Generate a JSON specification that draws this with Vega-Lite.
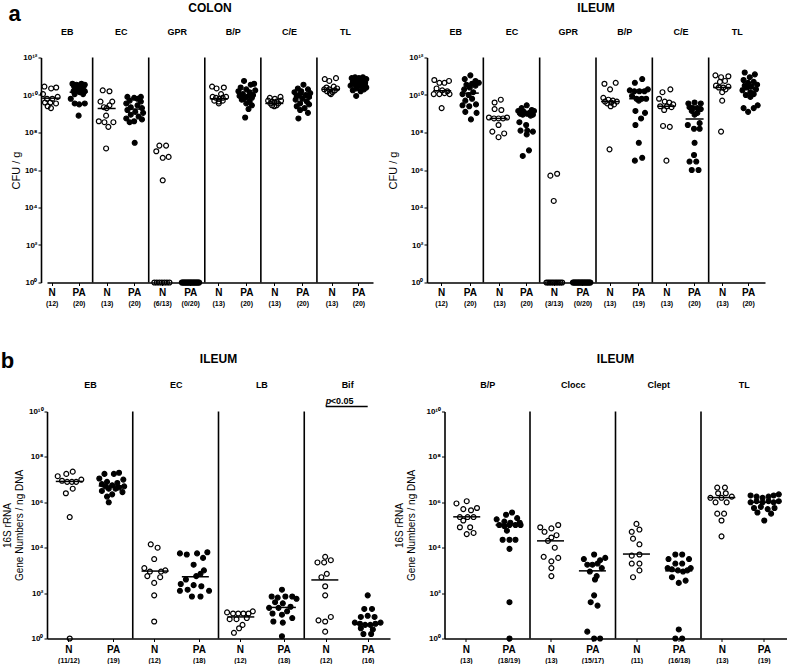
{
"$schema": "https://vega.github.io/schema/vega-lite/v6.json",
"padding": {"left": 0, "top": 1.5, "right": 0, "bottom": 0},
"config": {
 "font": "Liberation Sans",
 "view": {"stroke": null},
 "axis": {"grid": false, "domainColor": "#000", "tickColor": "#000", "labelColor": "#000", "titleColor": "#000", "labelFont": "Liberation Sans", "titleFont": "Liberation Sans"},
 "title": {"color": "#000", "font": "Liberation Sans", "fontWeight": "bold"}
},
"datasets": {
"dividers": [
 {"panel":"A","boundary":1},{"panel":"A","boundary":2},{"panel":"A","boundary":3},{"panel":"A","boundary":4},{"panel":"A","boundary":5},
 {"panel":"B","boundary":1},{"panel":"B","boundary":2},{"panel":"B","boundary":3},{"panel":"B","boundary":4},{"panel":"B","boundary":5},
 {"panel":"C","boundary":1},{"panel":"C","boundary":2},{"panel":"C","boundary":3},
 {"panel":"D","boundary":1},{"panel":"D","boundary":2},{"panel":"D","boundary":3}
],
"annotations": [
 {"panel":"C","group":"Bif","from":3.25,"to":3.74,"level":1.66e10,"symbol":"p","threshold":"<0.05"}
],
"medians": [
 {"panel":"A","group":"EB","cohort":"N","x":0.26,"value":6.76e9},
 {"panel":"A","group":"EB","cohort":"PA","x":0.75,"value":1.41e10},
 {"panel":"A","group":"EC","cohort":"N","x":1.25,"value":1.91e9},
 {"panel":"A","group":"EC","cohort":"PA","x":1.75,"value":1.78e9},
 {"panel":"A","group":"B/P","cohort":"N","x":3.25,"value":6.31e9},
 {"panel":"A","group":"B/P","cohort":"PA","x":3.75,"value":9.33e9},
 {"panel":"A","group":"C/E","cohort":"N","x":4.24,"value":3.55e9},
 {"panel":"A","group":"C/E","cohort":"PA","x":4.75,"value":7.08e9},
 {"panel":"A","group":"TL","cohort":"N","x":5.25,"value":2.0e10},
 {"panel":"A","group":"TL","cohort":"PA","x":5.75,"value":3.8e10},
 {"panel":"B","group":"EB","cohort":"N","x":0.27,"value":1.66e10},
 {"panel":"B","group":"EB","cohort":"PA","x":0.76,"value":1.26e10},
 {"panel":"B","group":"EC","cohort":"N","x":1.27,"value":5.62e8},
 {"panel":"B","group":"EC","cohort":"PA","x":1.76,"value":9.33e8},
 {"panel":"B","group":"B/P","cohort":"N","x":3.25,"value":4.47e9},
 {"panel":"B","group":"B/P","cohort":"PA","x":3.75,"value":6.31e9},
 {"panel":"B","group":"C/E","cohort":"N","x":4.25,"value":2.51e9},
 {"panel":"B","group":"C/E","cohort":"PA","x":4.75,"value":5.25e8},
 {"panel":"B","group":"TL","cohort":"N","x":5.24,"value":2.51e10},
 {"panel":"B","group":"TL","cohort":"PA","x":5.72,"value":2.24e10},
 {"panel":"C","group":"EB","cohort":"N","x":0.26,"value":8.32e6},
 {"panel":"C","group":"EB","cohort":"PA","x":0.76,"value":5.25e6},
 {"panel":"C","group":"EC","cohort":"N","x":1.26,"value":933},
 {"panel":"C","group":"EC","cohort":"PA","x":1.73,"value":525},
 {"panel":"C","group":"LB","cohort":"N","x":2.26,"value":8.91},
 {"panel":"C","group":"LB","cohort":"PA","x":2.745,"value":23.4},
 {"panel":"C","group":"Bif","cohort":"N","x":3.24,"value":380},
 {"panel":"C","group":"Bif","cohort":"PA","x":3.74,"value":4.27},
 {"panel":"D","group":"B/P","cohort":"N","x":0.26,"value":2.29e5},
 {"panel":"D","group":"B/P","cohort":"PA","x":0.755,"value":1e5},
 {"panel":"D","group":"Clocc","cohort":"N","x":1.24,"value":2.0e4},
 {"panel":"D","group":"Clocc","cohort":"PA","x":1.73,"value":955},
 {"panel":"D","group":"Clept","cohort":"N","x":2.245,"value":5250},
 {"panel":"D","group":"Clept","cohort":"PA","x":2.74,"value":955},
 {"panel":"D","group":"TL","cohort":"N","x":3.244,"value":1.62e6},
 {"panel":"D","group":"TL","cohort":"PA","x":3.735,"value":1e6}
],
"points": [
 {"panel":"A","group":"EB","cohort":"N","x":0.14,"value":2.82e10},
 {"panel":"A","group":"EB","cohort":"N","x":0.26,"value":2.24e10},
 {"panel":"A","group":"EB","cohort":"N","x":0.35,"value":2.51e10},
 {"panel":"A","group":"EB","cohort":"N","x":0.115,"value":1.12e10},
 {"panel":"A","group":"EB","cohort":"N","x":0.376,"value":7.94e9},
 {"panel":"A","group":"EB","cohort":"N","x":0.186,"value":6.31e9},
 {"panel":"A","group":"EB","cohort":"N","x":0.281,"value":6.31e9},
 {"panel":"A","group":"EB","cohort":"N","x":0.15,"value":3.98e9},
 {"panel":"A","group":"EB","cohort":"N","x":0.245,"value":3.98e9},
 {"panel":"A","group":"EB","cohort":"N","x":0.347,"value":3.55e9},
 {"panel":"A","group":"EB","cohort":"N","x":0.198,"value":2.51e9},
 {"panel":"A","group":"EB","cohort":"N","x":0.257,"value":2.0e9},
 {"panel":"A","group":"EB","cohort":"PA","x":0.64,"value":3.98e10},
 {"panel":"A","group":"EB","cohort":"PA","x":0.71,"value":3.55e10},
 {"panel":"A","group":"EB","cohort":"PA","x":0.80,"value":3.98e10},
 {"panel":"A","group":"EB","cohort":"PA","x":0.86,"value":3.55e10},
 {"panel":"A","group":"EB","cohort":"PA","x":0.67,"value":2.82e10},
 {"panel":"A","group":"EB","cohort":"PA","x":0.84,"value":2.82e10},
 {"panel":"A","group":"EB","cohort":"PA","x":0.75,"value":3.16e10},
 {"panel":"A","group":"EB","cohort":"PA","x":0.70,"value":2.24e10},
 {"panel":"A","group":"EB","cohort":"PA","x":0.80,"value":2.0e10},
 {"panel":"A","group":"EB","cohort":"PA","x":0.66,"value":1.58e10},
 {"panel":"A","group":"EB","cohort":"PA","x":0.86,"value":1.58e10},
 {"panel":"A","group":"EB","cohort":"PA","x":0.73,"value":1.78e10},
 {"panel":"A","group":"EB","cohort":"PA","x":0.77,"value":1.41e10},
 {"panel":"A","group":"EB","cohort":"PA","x":0.68,"value":1.12e10},
 {"panel":"A","group":"EB","cohort":"PA","x":0.83,"value":1.12e10},
 {"panel":"A","group":"EB","cohort":"PA","x":0.61,"value":6.31e9},
 {"panel":"A","group":"EB","cohort":"PA","x":0.68,"value":3.55e9},
 {"panel":"A","group":"EB","cohort":"PA","x":0.76,"value":3.16e9},
 {"panel":"A","group":"EB","cohort":"PA","x":0.86,"value":3.55e9},
 {"panel":"A","group":"EB","cohort":"PA","x":0.75,"value":7.94e8},
 {"panel":"A","group":"EC","cohort":"N","x":1.18,"value":1.78e10},
 {"panel":"A","group":"EC","cohort":"N","x":1.30,"value":1.58e10},
 {"panel":"A","group":"EC","cohort":"N","x":1.14,"value":4.47e9},
 {"panel":"A","group":"EC","cohort":"N","x":1.35,"value":4.47e9},
 {"panel":"A","group":"EC","cohort":"N","x":1.30,"value":2.82e9},
 {"panel":"A","group":"EC","cohort":"N","x":1.20,"value":2.24e9},
 {"panel":"A","group":"EC","cohort":"N","x":1.25,"value":2.0e9},
 {"panel":"A","group":"EC","cohort":"N","x":1.24,"value":7.94e8},
 {"panel":"A","group":"EC","cohort":"N","x":1.11,"value":3.98e8},
 {"panel":"A","group":"EC","cohort":"N","x":1.21,"value":3.55e8},
 {"panel":"A","group":"EC","cohort":"N","x":1.37,"value":3.55e8},
 {"panel":"A","group":"EC","cohort":"N","x":1.28,"value":2.0e8},
 {"panel":"A","group":"EC","cohort":"N","x":1.24,"value":1.41e7},
 {"panel":"A","group":"EC","cohort":"PA","x":1.62,"value":7.94e9},
 {"panel":"A","group":"EC","cohort":"PA","x":1.86,"value":7.94e9},
 {"panel":"A","group":"EC","cohort":"PA","x":1.74,"value":7.08e9},
 {"panel":"A","group":"EC","cohort":"PA","x":1.80,"value":6.31e9},
 {"panel":"A","group":"EC","cohort":"PA","x":1.66,"value":5.01e9},
 {"panel":"A","group":"EC","cohort":"PA","x":1.86,"value":4.47e9},
 {"panel":"A","group":"EC","cohort":"PA","x":1.60,"value":3.55e9},
 {"panel":"A","group":"EC","cohort":"PA","x":1.80,"value":2.82e9},
 {"panel":"A","group":"EC","cohort":"PA","x":1.68,"value":2.24e9},
 {"panel":"A","group":"EC","cohort":"PA","x":1.88,"value":2.0e9},
 {"panel":"A","group":"EC","cohort":"PA","x":1.62,"value":1.58e9},
 {"panel":"A","group":"EC","cohort":"PA","x":1.76,"value":1.26e9},
 {"panel":"A","group":"EC","cohort":"PA","x":1.90,"value":1.12e9},
 {"panel":"A","group":"EC","cohort":"PA","x":1.68,"value":8.91e8},
 {"panel":"A","group":"EC","cohort":"PA","x":1.82,"value":7.08e8},
 {"panel":"A","group":"EC","cohort":"PA","x":1.60,"value":5.62e8},
 {"panel":"A","group":"EC","cohort":"PA","x":1.88,"value":5.01e8},
 {"panel":"A","group":"EC","cohort":"PA","x":1.74,"value":3.98e8},
 {"panel":"A","group":"EC","cohort":"PA","x":1.66,"value":3.55e8},
 {"panel":"A","group":"EC","cohort":"PA","x":1.75,"value":2.82e7},
 {"panel":"A","group":"GPR","cohort":"N","x":2.19,"value":2.0e7},
 {"panel":"A","group":"GPR","cohort":"N","x":2.31,"value":2.0e7},
 {"panel":"A","group":"GPR","cohort":"N","x":2.135,"value":1e7},
 {"panel":"A","group":"GPR","cohort":"N","x":2.25,"value":4.47e6},
 {"panel":"A","group":"GPR","cohort":"N","x":2.355,"value":5.01e6},
 {"panel":"A","group":"GPR","cohort":"N","x":2.25,"value":2.82e5},
 {"panel":"A","group":"GPR","cohort":"N","x":2.10,"value":1},
 {"panel":"A","group":"GPR","cohort":"N","x":2.145,"value":1},
 {"panel":"A","group":"GPR","cohort":"N","x":2.19,"value":1},
 {"panel":"A","group":"GPR","cohort":"N","x":2.235,"value":1},
 {"panel":"A","group":"GPR","cohort":"N","x":2.28,"value":1},
 {"panel":"A","group":"GPR","cohort":"N","x":2.325,"value":1},
 {"panel":"A","group":"GPR","cohort":"N","x":2.37,"value":1},
 {"panel":"A","group":"GPR","cohort":"PA","x":2.59,"value":1},
 {"panel":"A","group":"GPR","cohort":"PA","x":2.606,"value":1},
 {"panel":"A","group":"GPR","cohort":"PA","x":2.623,"value":1},
 {"panel":"A","group":"GPR","cohort":"PA","x":2.639,"value":1},
 {"panel":"A","group":"GPR","cohort":"PA","x":2.655,"value":1},
 {"panel":"A","group":"GPR","cohort":"PA","x":2.672,"value":1},
 {"panel":"A","group":"GPR","cohort":"PA","x":2.688,"value":1},
 {"panel":"A","group":"GPR","cohort":"PA","x":2.704,"value":1},
 {"panel":"A","group":"GPR","cohort":"PA","x":2.72,"value":1},
 {"panel":"A","group":"GPR","cohort":"PA","x":2.737,"value":1},
 {"panel":"A","group":"GPR","cohort":"PA","x":2.753,"value":1},
 {"panel":"A","group":"GPR","cohort":"PA","x":2.769,"value":1},
 {"panel":"A","group":"GPR","cohort":"PA","x":2.786,"value":1},
 {"panel":"A","group":"GPR","cohort":"PA","x":2.802,"value":1},
 {"panel":"A","group":"GPR","cohort":"PA","x":2.818,"value":1},
 {"panel":"A","group":"GPR","cohort":"PA","x":2.835,"value":1},
 {"panel":"A","group":"GPR","cohort":"PA","x":2.851,"value":1},
 {"panel":"A","group":"GPR","cohort":"PA","x":2.867,"value":1},
 {"panel":"A","group":"GPR","cohort":"PA","x":2.884,"value":1},
 {"panel":"A","group":"GPR","cohort":"PA","x":2.90,"value":1},
 {"panel":"A","group":"B/P","cohort":"N","x":3.13,"value":2.82e10},
 {"panel":"A","group":"B/P","cohort":"N","x":3.21,"value":2.24e10},
 {"panel":"A","group":"B/P","cohort":"N","x":3.34,"value":2.51e10},
 {"panel":"A","group":"B/P","cohort":"N","x":3.29,"value":1.12e10},
 {"panel":"A","group":"B/P","cohort":"N","x":3.14,"value":7.94e9},
 {"panel":"A","group":"B/P","cohort":"N","x":3.20,"value":7.08e9},
 {"panel":"A","group":"B/P","cohort":"N","x":3.26,"value":6.31e9},
 {"panel":"A","group":"B/P","cohort":"N","x":3.32,"value":7.08e9},
 {"panel":"A","group":"B/P","cohort":"N","x":3.38,"value":7.94e9},
 {"panel":"A","group":"B/P","cohort":"N","x":3.17,"value":5.01e9},
 {"panel":"A","group":"B/P","cohort":"N","x":3.25,"value":4.47e9},
 {"panel":"A","group":"B/P","cohort":"N","x":3.32,"value":5.01e9},
 {"panel":"A","group":"B/P","cohort":"N","x":3.25,"value":3.55e9},
 {"panel":"A","group":"B/P","cohort":"PA","x":3.70,"value":5.62e10},
 {"panel":"A","group":"B/P","cohort":"PA","x":3.88,"value":3.98e10},
 {"panel":"A","group":"B/P","cohort":"PA","x":3.82,"value":3.55e10},
 {"panel":"A","group":"B/P","cohort":"PA","x":3.64,"value":2.51e10},
 {"panel":"A","group":"B/P","cohort":"PA","x":3.74,"value":2.0e10},
 {"panel":"A","group":"B/P","cohort":"PA","x":3.90,"value":1.78e10},
 {"panel":"A","group":"B/P","cohort":"PA","x":3.60,"value":1.58e10},
 {"panel":"A","group":"B/P","cohort":"PA","x":3.80,"value":1.41e10},
 {"panel":"A","group":"B/P","cohort":"PA","x":3.68,"value":1.12e10},
 {"panel":"A","group":"B/P","cohort":"PA","x":3.86,"value":1e10},
 {"panel":"A","group":"B/P","cohort":"PA","x":3.62,"value":8.91e9},
 {"panel":"A","group":"B/P","cohort":"PA","x":3.76,"value":7.94e9},
 {"panel":"A","group":"B/P","cohort":"PA","x":3.84,"value":7.08e9},
 {"panel":"A","group":"B/P","cohort":"PA","x":3.70,"value":6.31e9},
 {"panel":"A","group":"B/P","cohort":"PA","x":3.66,"value":5.62e9},
 {"panel":"A","group":"B/P","cohort":"PA","x":3.80,"value":4.47e9},
 {"panel":"A","group":"B/P","cohort":"PA","x":3.74,"value":3.55e9},
 {"panel":"A","group":"B/P","cohort":"PA","x":3.84,"value":2.82e9},
 {"panel":"A","group":"B/P","cohort":"PA","x":3.78,"value":1.78e9},
 {"panel":"A","group":"B/P","cohort":"PA","x":3.72,"value":6.31e8},
 {"panel":"A","group":"C/E","cohort":"N","x":4.16,"value":7.08e9},
 {"panel":"A","group":"C/E","cohort":"N","x":4.25,"value":6.31e9},
 {"panel":"A","group":"C/E","cohort":"N","x":4.35,"value":7.94e9},
 {"panel":"A","group":"C/E","cohort":"N","x":4.13,"value":5.01e9},
 {"panel":"A","group":"C/E","cohort":"N","x":4.20,"value":4.47e9},
 {"panel":"A","group":"C/E","cohort":"N","x":4.28,"value":4.47e9},
 {"panel":"A","group":"C/E","cohort":"N","x":4.36,"value":5.01e9},
 {"panel":"A","group":"C/E","cohort":"N","x":4.17,"value":3.55e9},
 {"panel":"A","group":"C/E","cohort":"N","x":4.24,"value":3.98e9},
 {"panel":"A","group":"C/E","cohort":"N","x":4.31,"value":3.55e9},
 {"panel":"A","group":"C/E","cohort":"N","x":4.20,"value":2.82e9},
 {"panel":"A","group":"C/E","cohort":"N","x":4.28,"value":2.82e9},
 {"panel":"A","group":"C/E","cohort":"N","x":4.24,"value":2.51e9},
 {"panel":"A","group":"C/E","cohort":"PA","x":4.76,"value":3.55e10},
 {"panel":"A","group":"C/E","cohort":"PA","x":4.66,"value":2.24e10},
 {"panel":"A","group":"C/E","cohort":"PA","x":4.84,"value":2.0e10},
 {"panel":"A","group":"C/E","cohort":"PA","x":4.72,"value":1.58e10},
 {"panel":"A","group":"C/E","cohort":"PA","x":4.60,"value":1.41e10},
 {"panel":"A","group":"C/E","cohort":"PA","x":4.88,"value":1.26e10},
 {"panel":"A","group":"C/E","cohort":"PA","x":4.70,"value":1.12e10},
 {"panel":"A","group":"C/E","cohort":"PA","x":4.80,"value":1e10},
 {"panel":"A","group":"C/E","cohort":"PA","x":4.64,"value":8.91e9},
 {"panel":"A","group":"C/E","cohort":"PA","x":4.86,"value":7.94e9},
 {"panel":"A","group":"C/E","cohort":"PA","x":4.74,"value":6.31e9},
 {"panel":"A","group":"C/E","cohort":"PA","x":4.62,"value":5.62e9},
 {"panel":"A","group":"C/E","cohort":"PA","x":4.82,"value":4.47e9},
 {"panel":"A","group":"C/E","cohort":"PA","x":4.70,"value":3.55e9},
 {"panel":"A","group":"C/E","cohort":"PA","x":4.86,"value":3.16e9},
 {"panel":"A","group":"C/E","cohort":"PA","x":4.64,"value":2.51e9},
 {"panel":"A","group":"C/E","cohort":"PA","x":4.78,"value":2.0e9},
 {"panel":"A","group":"C/E","cohort":"PA","x":4.70,"value":1.58e9},
 {"panel":"A","group":"C/E","cohort":"PA","x":4.84,"value":1.12e9},
 {"panel":"A","group":"C/E","cohort":"PA","x":4.67,"value":5.62e8},
 {"panel":"A","group":"TL","cohort":"N","x":5.14,"value":7.08e10},
 {"panel":"A","group":"TL","cohort":"N","x":5.22,"value":5.62e10},
 {"panel":"A","group":"TL","cohort":"N","x":5.34,"value":7.94e10},
 {"panel":"A","group":"TL","cohort":"N","x":5.30,"value":2.82e10},
 {"panel":"A","group":"TL","cohort":"N","x":5.17,"value":2.51e10},
 {"panel":"A","group":"TL","cohort":"N","x":5.36,"value":2.24e10},
 {"panel":"A","group":"TL","cohort":"N","x":5.13,"value":2.0e10},
 {"panel":"A","group":"TL","cohort":"N","x":5.22,"value":2.0e10},
 {"panel":"A","group":"TL","cohort":"N","x":5.32,"value":1.78e10},
 {"panel":"A","group":"TL","cohort":"N","x":5.18,"value":1.58e10},
 {"panel":"A","group":"TL","cohort":"N","x":5.28,"value":1.41e10},
 {"panel":"A","group":"TL","cohort":"N","x":5.23,"value":1.26e10},
 {"panel":"A","group":"TL","cohort":"N","x":5.25,"value":1.12e10},
 {"panel":"A","group":"TL","cohort":"PA","x":5.68,"value":8.91e10},
 {"panel":"A","group":"TL","cohort":"PA","x":5.82,"value":8.91e10},
 {"panel":"A","group":"TL","cohort":"PA","x":5.75,"value":7.94e10},
 {"panel":"A","group":"TL","cohort":"PA","x":5.62,"value":7.94e10},
 {"panel":"A","group":"TL","cohort":"PA","x":5.88,"value":7.08e10},
 {"panel":"A","group":"TL","cohort":"PA","x":5.70,"value":6.31e10},
 {"panel":"A","group":"TL","cohort":"PA","x":5.80,"value":5.62e10},
 {"panel":"A","group":"TL","cohort":"PA","x":5.64,"value":5.01e10},
 {"panel":"A","group":"TL","cohort":"PA","x":5.86,"value":4.47e10},
 {"panel":"A","group":"TL","cohort":"PA","x":5.74,"value":3.98e10},
 {"panel":"A","group":"TL","cohort":"PA","x":5.68,"value":3.55e10},
 {"panel":"A","group":"TL","cohort":"PA","x":5.82,"value":3.16e10},
 {"panel":"A","group":"TL","cohort":"PA","x":5.60,"value":3.16e10},
 {"panel":"A","group":"TL","cohort":"PA","x":5.76,"value":2.82e10},
 {"panel":"A","group":"TL","cohort":"PA","x":5.88,"value":2.51e10},
 {"panel":"A","group":"TL","cohort":"PA","x":5.70,"value":2.24e10},
 {"panel":"A","group":"TL","cohort":"PA","x":5.84,"value":2.0e10},
 {"panel":"A","group":"TL","cohort":"PA","x":5.64,"value":1.78e10},
 {"panel":"A","group":"TL","cohort":"PA","x":5.78,"value":1.58e10},
 {"panel":"A","group":"TL","cohort":"PA","x":5.70,"value":8.91e9},

 {"panel":"B","group":"EB","cohort":"N","x":0.13,"value":6.31e10},
 {"panel":"B","group":"EB","cohort":"N","x":0.22,"value":4.47e10},
 {"panel":"B","group":"EB","cohort":"N","x":0.31,"value":4.47e10},
 {"panel":"B","group":"EB","cohort":"N","x":0.39,"value":5.62e10},
 {"panel":"B","group":"EB","cohort":"N","x":0.17,"value":2.24e10},
 {"panel":"B","group":"EB","cohort":"N","x":0.27,"value":1.78e10},
 {"panel":"B","group":"EB","cohort":"N","x":0.36,"value":1.58e10},
 {"panel":"B","group":"EB","cohort":"N","x":0.12,"value":1.12e10},
 {"panel":"B","group":"EB","cohort":"N","x":0.22,"value":1.12e10},
 {"panel":"B","group":"EB","cohort":"N","x":0.31,"value":1.26e10},
 {"panel":"B","group":"EB","cohort":"N","x":0.40,"value":1.12e10},
 {"panel":"B","group":"EB","cohort":"N","x":0.26,"value":2.0e9},
 {"panel":"B","group":"EB","cohort":"PA","x":0.77,"value":1.12e11},
 {"panel":"B","group":"EB","cohort":"PA","x":0.67,"value":7.08e10},
 {"panel":"B","group":"EB","cohort":"PA","x":0.86,"value":5.62e10},
 {"panel":"B","group":"EB","cohort":"PA","x":0.92,"value":4.47e10},
 {"panel":"B","group":"EB","cohort":"PA","x":0.80,"value":3.98e10},
 {"panel":"B","group":"EB","cohort":"PA","x":0.70,"value":3.55e10},
 {"panel":"B","group":"EB","cohort":"PA","x":0.86,"value":3.16e10},
 {"panel":"B","group":"EB","cohort":"PA","x":0.76,"value":2.51e10},
 {"panel":"B","group":"EB","cohort":"PA","x":0.66,"value":2.0e10},
 {"panel":"B","group":"EB","cohort":"PA","x":0.82,"value":1.41e10},
 {"panel":"B","group":"EB","cohort":"PA","x":0.63,"value":1.12e10},
 {"panel":"B","group":"EB","cohort":"PA","x":0.74,"value":1e10},
 {"panel":"B","group":"EB","cohort":"PA","x":0.80,"value":6.31e9},
 {"panel":"B","group":"EB","cohort":"PA","x":0.68,"value":5.01e9},
 {"panel":"B","group":"EB","cohort":"PA","x":0.87,"value":3.16e9},
 {"panel":"B","group":"EB","cohort":"PA","x":0.63,"value":2.82e9},
 {"panel":"B","group":"EB","cohort":"PA","x":0.75,"value":2.51e9},
 {"panel":"B","group":"EB","cohort":"PA","x":0.68,"value":1.26e9},
 {"panel":"B","group":"EB","cohort":"PA","x":0.88,"value":1.12e9},
 {"panel":"B","group":"EB","cohort":"PA","x":0.78,"value":5.01e8},
 {"panel":"B","group":"EC","cohort":"N","x":1.20,"value":3.98e9},
 {"panel":"B","group":"EC","cohort":"N","x":1.31,"value":5.62e9},
 {"panel":"B","group":"EC","cohort":"N","x":1.20,"value":1.78e9},
 {"panel":"B","group":"EC","cohort":"N","x":1.32,"value":1.58e9},
 {"panel":"B","group":"EC","cohort":"N","x":1.10,"value":6.31e8},
 {"panel":"B","group":"EC","cohort":"N","x":1.19,"value":5.62e8},
 {"panel":"B","group":"EC","cohort":"N","x":1.27,"value":5.62e8},
 {"panel":"B","group":"EC","cohort":"N","x":1.35,"value":5.62e8},
 {"panel":"B","group":"EC","cohort":"N","x":1.42,"value":6.31e8},
 {"panel":"B","group":"EC","cohort":"N","x":1.27,"value":2.51e8},
 {"panel":"B","group":"EC","cohort":"N","x":1.16,"value":1.12e8},
 {"panel":"B","group":"EC","cohort":"N","x":1.37,"value":8.91e7},
 {"panel":"B","group":"EC","cohort":"N","x":1.27,"value":5.62e7},
 {"panel":"B","group":"EC","cohort":"PA","x":1.77,"value":2.82e9},
 {"panel":"B","group":"EC","cohort":"PA","x":1.68,"value":2.0e9},
 {"panel":"B","group":"EC","cohort":"PA","x":1.86,"value":1.58e9},
 {"panel":"B","group":"EC","cohort":"PA","x":1.62,"value":1.41e9},
 {"panel":"B","group":"EC","cohort":"PA","x":1.90,"value":1.41e9},
 {"panel":"B","group":"EC","cohort":"PA","x":1.72,"value":1.26e9},
 {"panel":"B","group":"EC","cohort":"PA","x":1.82,"value":1.12e9},
 {"panel":"B","group":"EC","cohort":"PA","x":1.66,"value":1e9},
 {"panel":"B","group":"EC","cohort":"PA","x":1.78,"value":1e9},
 {"panel":"B","group":"EC","cohort":"PA","x":1.88,"value":8.91e8},
 {"panel":"B","group":"EC","cohort":"PA","x":1.70,"value":8.91e8},
 {"panel":"B","group":"EC","cohort":"PA","x":1.84,"value":7.94e8},
 {"panel":"B","group":"EC","cohort":"PA","x":1.64,"value":3.55e8},
 {"panel":"B","group":"EC","cohort":"PA","x":1.76,"value":2.51e8},
 {"panel":"B","group":"EC","cohort":"PA","x":1.66,"value":1.26e8},
 {"panel":"B","group":"EC","cohort":"PA","x":1.78,"value":1.26e8},
 {"panel":"B","group":"EC","cohort":"PA","x":1.88,"value":1.12e8},
 {"panel":"B","group":"EC","cohort":"PA","x":1.77,"value":7.94e7},
 {"panel":"B","group":"EC","cohort":"PA","x":1.81,"value":1.12e7},
 {"panel":"B","group":"EC","cohort":"PA","x":1.70,"value":5.62e6},
 {"panel":"B","group":"GPR","cohort":"N","x":2.19,"value":5.01e5},
 {"panel":"B","group":"GPR","cohort":"N","x":2.31,"value":6.31e5},
 {"panel":"B","group":"GPR","cohort":"N","x":2.25,"value":2.24e4},
 {"panel":"B","group":"GPR","cohort":"N","x":2.12,"value":1},
 {"panel":"B","group":"GPR","cohort":"N","x":2.151,"value":1},
 {"panel":"B","group":"GPR","cohort":"N","x":2.182,"value":1},
 {"panel":"B","group":"GPR","cohort":"N","x":2.213,"value":1},
 {"panel":"B","group":"GPR","cohort":"N","x":2.244,"value":1},
 {"panel":"B","group":"GPR","cohort":"N","x":2.276,"value":1},
 {"panel":"B","group":"GPR","cohort":"N","x":2.307,"value":1},
 {"panel":"B","group":"GPR","cohort":"N","x":2.338,"value":1},
 {"panel":"B","group":"GPR","cohort":"N","x":2.369,"value":1},
 {"panel":"B","group":"GPR","cohort":"N","x":2.40,"value":1},
 {"panel":"B","group":"GPR","cohort":"PA","x":2.59,"value":1},
 {"panel":"B","group":"GPR","cohort":"PA","x":2.606,"value":1},
 {"panel":"B","group":"GPR","cohort":"PA","x":2.623,"value":1},
 {"panel":"B","group":"GPR","cohort":"PA","x":2.639,"value":1},
 {"panel":"B","group":"GPR","cohort":"PA","x":2.655,"value":1},
 {"panel":"B","group":"GPR","cohort":"PA","x":2.672,"value":1},
 {"panel":"B","group":"GPR","cohort":"PA","x":2.688,"value":1},
 {"panel":"B","group":"GPR","cohort":"PA","x":2.704,"value":1},
 {"panel":"B","group":"GPR","cohort":"PA","x":2.72,"value":1},
 {"panel":"B","group":"GPR","cohort":"PA","x":2.737,"value":1},
 {"panel":"B","group":"GPR","cohort":"PA","x":2.753,"value":1},
 {"panel":"B","group":"GPR","cohort":"PA","x":2.769,"value":1},
 {"panel":"B","group":"GPR","cohort":"PA","x":2.786,"value":1},
 {"panel":"B","group":"GPR","cohort":"PA","x":2.802,"value":1},
 {"panel":"B","group":"GPR","cohort":"PA","x":2.818,"value":1},
 {"panel":"B","group":"GPR","cohort":"PA","x":2.835,"value":1},
 {"panel":"B","group":"GPR","cohort":"PA","x":2.851,"value":1},
 {"panel":"B","group":"GPR","cohort":"PA","x":2.867,"value":1},
 {"panel":"B","group":"GPR","cohort":"PA","x":2.884,"value":1},
 {"panel":"B","group":"GPR","cohort":"PA","x":2.90,"value":1},
 {"panel":"B","group":"B/P","cohort":"N","x":3.15,"value":3.98e10},
 {"panel":"B","group":"B/P","cohort":"N","x":3.25,"value":2.0e10},
 {"panel":"B","group":"B/P","cohort":"N","x":3.35,"value":4.47e10},
 {"panel":"B","group":"B/P","cohort":"N","x":3.13,"value":7.08e9},
 {"panel":"B","group":"B/P","cohort":"N","x":3.22,"value":5.62e9},
 {"panel":"B","group":"B/P","cohort":"N","x":3.30,"value":5.01e9},
 {"panel":"B","group":"B/P","cohort":"N","x":3.37,"value":4.47e9},
 {"panel":"B","group":"B/P","cohort":"N","x":3.16,"value":4.47e9},
 {"panel":"B","group":"B/P","cohort":"N","x":3.27,"value":3.98e9},
 {"panel":"B","group":"B/P","cohort":"N","x":3.20,"value":3.55e9},
 {"panel":"B","group":"B/P","cohort":"N","x":3.32,"value":3.16e9},
 {"panel":"B","group":"B/P","cohort":"N","x":3.26,"value":2.51e9},
 {"panel":"B","group":"B/P","cohort":"N","x":3.24,"value":1.26e7},
 {"panel":"B","group":"B/P","cohort":"PA","x":3.69,"value":4.47e10},
 {"panel":"B","group":"B/P","cohort":"PA","x":3.82,"value":7.08e10},
 {"panel":"B","group":"B/P","cohort":"PA","x":3.60,"value":1.78e10},
 {"panel":"B","group":"B/P","cohort":"PA","x":3.68,"value":1.58e10},
 {"panel":"B","group":"B/P","cohort":"PA","x":3.77,"value":1.58e10},
 {"panel":"B","group":"B/P","cohort":"PA","x":3.86,"value":1.58e10},
 {"panel":"B","group":"B/P","cohort":"PA","x":3.92,"value":2.0e10},
 {"panel":"B","group":"B/P","cohort":"PA","x":3.64,"value":8.91e9},
 {"panel":"B","group":"B/P","cohort":"PA","x":3.72,"value":6.31e9},
 {"panel":"B","group":"B/P","cohort":"PA","x":3.81,"value":6.31e9},
 {"panel":"B","group":"B/P","cohort":"PA","x":3.89,"value":6.31e9},
 {"panel":"B","group":"B/P","cohort":"PA","x":3.76,"value":5.01e9},
 {"panel":"B","group":"B/P","cohort":"PA","x":3.70,"value":1.41e9},
 {"panel":"B","group":"B/P","cohort":"PA","x":3.87,"value":1.12e9},
 {"panel":"B","group":"B/P","cohort":"PA","x":3.80,"value":5.62e8},
 {"panel":"B","group":"B/P","cohort":"PA","x":3.70,"value":2.51e8},
 {"panel":"B","group":"B/P","cohort":"PA","x":3.76,"value":2.82e7},
 {"panel":"B","group":"B/P","cohort":"PA","x":3.69,"value":3.16e6},
 {"panel":"B","group":"B/P","cohort":"PA","x":3.82,"value":4.47e6},
 {"panel":"B","group":"C/E","cohort":"N","x":4.18,"value":1.41e10},
 {"panel":"B","group":"C/E","cohort":"N","x":4.32,"value":2.0e10},
 {"panel":"B","group":"C/E","cohort":"N","x":4.12,"value":6.31e9},
 {"panel":"B","group":"C/E","cohort":"N","x":4.22,"value":4.47e9},
 {"panel":"B","group":"C/E","cohort":"N","x":4.30,"value":3.98e9},
 {"panel":"B","group":"C/E","cohort":"N","x":4.37,"value":3.16e9},
 {"panel":"B","group":"C/E","cohort":"N","x":4.14,"value":2.51e9},
 {"panel":"B","group":"C/E","cohort":"N","x":4.26,"value":2.51e9},
 {"panel":"B","group":"C/E","cohort":"N","x":4.34,"value":2.24e9},
 {"panel":"B","group":"C/E","cohort":"N","x":4.21,"value":1.58e9},
 {"panel":"B","group":"C/E","cohort":"N","x":4.19,"value":2.24e8},
 {"panel":"B","group":"C/E","cohort":"N","x":4.31,"value":2.0e8},
 {"panel":"B","group":"C/E","cohort":"N","x":4.25,"value":3.16e6},
 {"panel":"B","group":"C/E","cohort":"PA","x":4.64,"value":3.55e9},
 {"panel":"B","group":"C/E","cohort":"PA","x":4.75,"value":3.98e9},
 {"panel":"B","group":"C/E","cohort":"PA","x":4.86,"value":3.55e9},
 {"panel":"B","group":"C/E","cohort":"PA","x":4.66,"value":2.24e9},
 {"panel":"B","group":"C/E","cohort":"PA","x":4.72,"value":2.0e9},
 {"panel":"B","group":"C/E","cohort":"PA","x":4.80,"value":2.0e9},
 {"panel":"B","group":"C/E","cohort":"PA","x":4.86,"value":1.78e9},
 {"panel":"B","group":"C/E","cohort":"PA","x":4.70,"value":1.41e9},
 {"panel":"B","group":"C/E","cohort":"PA","x":4.80,"value":1.12e9},
 {"panel":"B","group":"C/E","cohort":"PA","x":4.75,"value":8.91e8},
 {"panel":"B","group":"C/E","cohort":"PA","x":4.84,"value":3.16e8},
 {"panel":"B","group":"C/E","cohort":"PA","x":4.63,"value":2.51e8},
 {"panel":"B","group":"C/E","cohort":"PA","x":4.74,"value":1.58e8},
 {"panel":"B","group":"C/E","cohort":"PA","x":4.84,"value":1.58e8},
 {"panel":"B","group":"C/E","cohort":"PA","x":4.75,"value":2.82e7},
 {"panel":"B","group":"C/E","cohort":"PA","x":4.74,"value":6.31e6},
 {"panel":"B","group":"C/E","cohort":"PA","x":4.66,"value":2.82e6},
 {"panel":"B","group":"C/E","cohort":"PA","x":4.78,"value":2.82e6},
 {"panel":"B","group":"C/E","cohort":"PA","x":4.70,"value":1e6},
 {"panel":"B","group":"C/E","cohort":"PA","x":4.82,"value":1e6},
 {"panel":"B","group":"TL","cohort":"N","x":5.12,"value":1.12e11},
 {"panel":"B","group":"TL","cohort":"N","x":5.22,"value":8.91e10},
 {"panel":"B","group":"TL","cohort":"N","x":5.35,"value":1e11},
 {"panel":"B","group":"TL","cohort":"N","x":5.29,"value":5.62e10},
 {"panel":"B","group":"TL","cohort":"N","x":5.20,"value":5.01e10},
 {"panel":"B","group":"TL","cohort":"N","x":5.13,"value":3.16e10},
 {"panel":"B","group":"TL","cohort":"N","x":5.26,"value":2.51e10},
 {"panel":"B","group":"TL","cohort":"N","x":5.35,"value":2.82e10},
 {"panel":"B","group":"TL","cohort":"N","x":5.18,"value":2.51e10},
 {"panel":"B","group":"TL","cohort":"N","x":5.30,"value":2.0e10},
 {"panel":"B","group":"TL","cohort":"N","x":5.24,"value":1.41e10},
 {"panel":"B","group":"TL","cohort":"N","x":5.24,"value":5.01e9},
 {"panel":"B","group":"TL","cohort":"N","x":5.22,"value":1.12e8},
 {"panel":"B","group":"TL","cohort":"PA","x":5.64,"value":1.58e11},
 {"panel":"B","group":"TL","cohort":"PA","x":5.82,"value":1.26e11},
 {"panel":"B","group":"TL","cohort":"PA","x":5.73,"value":8.91e10},
 {"panel":"B","group":"TL","cohort":"PA","x":5.62,"value":6.31e10},
 {"panel":"B","group":"TL","cohort":"PA","x":5.80,"value":5.01e10},
 {"panel":"B","group":"TL","cohort":"PA","x":5.70,"value":4.47e10},
 {"panel":"B","group":"TL","cohort":"PA","x":5.86,"value":3.55e10},
 {"panel":"B","group":"TL","cohort":"PA","x":5.64,"value":3.16e10},
 {"panel":"B","group":"TL","cohort":"PA","x":5.76,"value":2.82e10},
 {"panel":"B","group":"TL","cohort":"PA","x":5.68,"value":2.51e10},
 {"panel":"B","group":"TL","cohort":"PA","x":5.84,"value":2.0e10},
 {"panel":"B","group":"TL","cohort":"PA","x":5.60,"value":1.78e10},
 {"panel":"B","group":"TL","cohort":"PA","x":5.74,"value":1.41e10},
 {"panel":"B","group":"TL","cohort":"PA","x":5.80,"value":1.12e10},
 {"panel":"B","group":"TL","cohort":"PA","x":5.66,"value":1e10},
 {"panel":"B","group":"TL","cohort":"PA","x":5.74,"value":7.94e9},
 {"panel":"B","group":"TL","cohort":"PA","x":5.62,"value":2.0e9},
 {"panel":"B","group":"TL","cohort":"PA","x":5.70,"value":1.26e9},
 {"panel":"B","group":"TL","cohort":"PA","x":5.80,"value":2.0e9},
 {"panel":"B","group":"TL","cohort":"PA","x":5.87,"value":2.82e9},

 {"panel":"C","group":"EB","cohort":"N","x":0.125,"value":1.41e7},
 {"panel":"C","group":"EB","cohort":"N","x":0.225,"value":1.78e7},
 {"panel":"C","group":"EB","cohort":"N","x":0.30,"value":2.24e7},
 {"panel":"C","group":"EB","cohort":"N","x":0.175,"value":8.91e6},
 {"panel":"C","group":"EB","cohort":"N","x":0.235,"value":7.94e6},
 {"panel":"C","group":"EB","cohort":"N","x":0.29,"value":7.94e6},
 {"panel":"C","group":"EB","cohort":"N","x":0.34,"value":7.94e6},
 {"panel":"C","group":"EB","cohort":"N","x":0.40,"value":1e7},
 {"panel":"C","group":"EB","cohort":"N","x":0.22,"value":2.51e6},
 {"panel":"C","group":"EB","cohort":"N","x":0.30,"value":3.98e6},
 {"panel":"C","group":"EB","cohort":"N","x":0.265,"value":2.24e5},
 {"panel":"C","group":"EB","cohort":"N","x":0.265,"value":1},
 {"panel":"C","group":"EB","cohort":"PA","x":0.84,"value":2.0e7},
 {"panel":"C","group":"EB","cohort":"PA","x":0.67,"value":1.78e7},
 {"panel":"C","group":"EB","cohort":"PA","x":0.78,"value":1.78e7},
 {"panel":"C","group":"EB","cohort":"PA","x":0.61,"value":1.12e7},
 {"panel":"C","group":"EB","cohort":"PA","x":0.89,"value":1e7},
 {"panel":"C","group":"EB","cohort":"PA","x":0.70,"value":7.94e6},
 {"panel":"C","group":"EB","cohort":"PA","x":0.82,"value":7.08e6},
 {"panel":"C","group":"EB","cohort":"PA","x":0.64,"value":6.31e6},
 {"panel":"C","group":"EB","cohort":"PA","x":0.76,"value":5.62e6},
 {"panel":"C","group":"EB","cohort":"PA","x":0.90,"value":5.01e6},
 {"panel":"C","group":"EB","cohort":"PA","x":0.68,"value":5.01e6},
 {"panel":"C","group":"EB","cohort":"PA","x":0.84,"value":4.47e6},
 {"panel":"C","group":"EB","cohort":"PA","x":0.72,"value":3.98e6},
 {"panel":"C","group":"EB","cohort":"PA","x":0.80,"value":3.98e6},
 {"panel":"C","group":"EB","cohort":"PA","x":0.64,"value":3.16e6},
 {"panel":"C","group":"EB","cohort":"PA","x":0.88,"value":2.82e6},
 {"panel":"C","group":"EB","cohort":"PA","x":0.76,"value":2.24e6},
 {"panel":"C","group":"EB","cohort":"PA","x":0.70,"value":1.78e6},
 {"panel":"C","group":"EB","cohort":"PA","x":0.72,"value":1e6},
 {"panel":"C","group":"EC","cohort":"N","x":1.21,"value":1.41e4},
 {"panel":"C","group":"EC","cohort":"N","x":1.29,"value":1e4},
 {"panel":"C","group":"EC","cohort":"N","x":1.25,"value":3160},
 {"panel":"C","group":"EC","cohort":"N","x":1.135,"value":1260},
 {"panel":"C","group":"EC","cohort":"N","x":1.20,"value":891},
 {"panel":"C","group":"EC","cohort":"N","x":1.33,"value":891},
 {"panel":"C","group":"EC","cohort":"N","x":1.38,"value":1000},
 {"panel":"C","group":"EC","cohort":"N","x":1.17,"value":562},
 {"panel":"C","group":"EC","cohort":"N","x":1.32,"value":501},
 {"panel":"C","group":"EC","cohort":"N","x":1.25,"value":282},
 {"panel":"C","group":"EC","cohort":"N","x":1.25,"value":79.4},
 {"panel":"C","group":"EC","cohort":"N","x":1.25,"value":5.62},
 {"panel":"C","group":"EC","cohort":"PA","x":1.55,"value":5620},
 {"panel":"C","group":"EC","cohort":"PA","x":1.63,"value":5010},
 {"panel":"C","group":"EC","cohort":"PA","x":1.75,"value":5620},
 {"panel":"C","group":"EC","cohort":"PA","x":1.87,"value":6310},
 {"panel":"C","group":"EC","cohort":"PA","x":1.82,"value":3550},
 {"panel":"C","group":"EC","cohort":"PA","x":1.71,"value":1780},
 {"panel":"C","group":"EC","cohort":"PA","x":1.83,"value":1000},
 {"panel":"C","group":"EC","cohort":"PA","x":1.79,"value":708},
 {"panel":"C","group":"EC","cohort":"PA","x":1.74,"value":562},
 {"panel":"C","group":"EC","cohort":"PA","x":1.62,"value":398},
 {"panel":"C","group":"EC","cohort":"PA","x":1.56,"value":251},
 {"panel":"C","group":"EC","cohort":"PA","x":1.71,"value":224},
 {"panel":"C","group":"EC","cohort":"PA","x":1.80,"value":200},
 {"panel":"C","group":"EC","cohort":"PA","x":1.55,"value":126},
 {"panel":"C","group":"EC","cohort":"PA","x":1.89,"value":126},
 {"panel":"C","group":"EC","cohort":"PA","x":1.64,"value":141},
 {"panel":"C","group":"EC","cohort":"PA","x":1.69,"value":70.8},
 {"panel":"C","group":"EC","cohort":"PA","x":1.79,"value":70.8},
 {"panel":"C","group":"LB","cohort":"N","x":2.10,"value":14.1},
 {"panel":"C","group":"LB","cohort":"N","x":2.17,"value":12.6},
 {"panel":"C","group":"LB","cohort":"N","x":2.23,"value":12.6},
 {"panel":"C","group":"LB","cohort":"N","x":2.29,"value":12.6},
 {"panel":"C","group":"LB","cohort":"N","x":2.35,"value":12.6},
 {"panel":"C","group":"LB","cohort":"N","x":2.40,"value":15.8},
 {"panel":"C","group":"LB","cohort":"N","x":2.13,"value":7.08},
 {"panel":"C","group":"LB","cohort":"N","x":2.21,"value":7.08},
 {"panel":"C","group":"LB","cohort":"N","x":2.33,"value":7.94},
 {"panel":"C","group":"LB","cohort":"N","x":2.28,"value":3.98},
 {"panel":"C","group":"LB","cohort":"N","x":2.24,"value":2.82},
 {"panel":"C","group":"LB","cohort":"N","x":2.18,"value":1.78},
 {"panel":"C","group":"LB","cohort":"PA","x":2.74,"value":141},
 {"panel":"C","group":"LB","cohort":"PA","x":2.62,"value":70.8},
 {"panel":"C","group":"LB","cohort":"PA","x":2.69,"value":63.1},
 {"panel":"C","group":"LB","cohort":"PA","x":2.78,"value":70.8},
 {"panel":"C","group":"LB","cohort":"PA","x":2.86,"value":70.8},
 {"panel":"C","group":"LB","cohort":"PA","x":2.91,"value":56.2},
 {"panel":"C","group":"LB","cohort":"PA","x":2.66,"value":39.8},
 {"panel":"C","group":"LB","cohort":"PA","x":2.75,"value":35.5},
 {"panel":"C","group":"LB","cohort":"PA","x":2.84,"value":25.1},
 {"panel":"C","group":"LB","cohort":"PA","x":2.59,"value":22.4},
 {"panel":"C","group":"LB","cohort":"PA","x":2.70,"value":22.4},
 {"panel":"C","group":"LB","cohort":"PA","x":2.80,"value":15.8},
 {"panel":"C","group":"LB","cohort":"PA","x":2.63,"value":12.6},
 {"panel":"C","group":"LB","cohort":"PA","x":2.74,"value":11.2},
 {"panel":"C","group":"LB","cohort":"PA","x":2.86,"value":7.94},
 {"panel":"C","group":"LB","cohort":"PA","x":2.64,"value":5.62},
 {"panel":"C","group":"LB","cohort":"PA","x":2.75,"value":5.01},
 {"panel":"C","group":"LB","cohort":"PA","x":2.74,"value":1.26},
 {"panel":"C","group":"Bif","cohort":"N","x":3.244,"value":3980},
 {"panel":"C","group":"Bif","cohort":"N","x":3.154,"value":2240},
 {"panel":"C","group":"Bif","cohort":"N","x":3.232,"value":2240},
 {"panel":"C","group":"Bif","cohort":"N","x":3.31,"value":2820},
 {"panel":"C","group":"Bif","cohort":"N","x":3.20,"value":501},
 {"panel":"C","group":"Bif","cohort":"N","x":3.263,"value":708},
 {"panel":"C","group":"Bif","cohort":"N","x":3.244,"value":200},
 {"panel":"C","group":"Bif","cohort":"N","x":3.244,"value":79.4},
 {"panel":"C","group":"Bif","cohort":"N","x":3.166,"value":6.31},
 {"panel":"C","group":"Bif","cohort":"N","x":3.244,"value":5.62},
 {"panel":"C","group":"Bif","cohort":"N","x":3.31,"value":8.91},
 {"panel":"C","group":"Bif","cohort":"N","x":3.244,"value":2.0},
 {"panel":"C","group":"Bif","cohort":"PA","x":3.74,"value":79.4},
 {"panel":"C","group":"Bif","cohort":"PA","x":3.70,"value":20.0},
 {"panel":"C","group":"Bif","cohort":"PA","x":3.79,"value":20.0},
 {"panel":"C","group":"Bif","cohort":"PA","x":3.66,"value":8.91},
 {"panel":"C","group":"Bif","cohort":"PA","x":3.74,"value":10},
 {"panel":"C","group":"Bif","cohort":"PA","x":3.82,"value":8.91},
 {"panel":"C","group":"Bif","cohort":"PA","x":3.59,"value":5.01},
 {"panel":"C","group":"Bif","cohort":"PA","x":3.65,"value":4.47},
 {"panel":"C","group":"Bif","cohort":"PA","x":3.71,"value":3.98},
 {"panel":"C","group":"Bif","cohort":"PA","x":3.77,"value":3.98},
 {"panel":"C","group":"Bif","cohort":"PA","x":3.83,"value":4.47},
 {"panel":"C","group":"Bif","cohort":"PA","x":3.89,"value":5.01},
 {"panel":"C","group":"Bif","cohort":"PA","x":3.66,"value":2.82},
 {"panel":"C","group":"Bif","cohort":"PA","x":3.80,"value":2.51},
 {"panel":"C","group":"Bif","cohort":"PA","x":3.69,"value":1.58},
 {"panel":"C","group":"Bif","cohort":"PA","x":3.78,"value":1.58},

 {"panel":"D","group":"B/P","cohort":"N","x":0.14,"value":8.91e5},
 {"panel":"D","group":"B/P","cohort":"N","x":0.26,"value":1.12e6},
 {"panel":"D","group":"B/P","cohort":"N","x":0.22,"value":5.01e5},
 {"panel":"D","group":"B/P","cohort":"N","x":0.31,"value":4.47e5},
 {"panel":"D","group":"B/P","cohort":"N","x":0.38,"value":5.62e5},
 {"panel":"D","group":"B/P","cohort":"N","x":0.18,"value":2.24e5},
 {"panel":"D","group":"B/P","cohort":"N","x":0.27,"value":2.24e5},
 {"panel":"D","group":"B/P","cohort":"N","x":0.34,"value":2.24e5},
 {"panel":"D","group":"B/P","cohort":"N","x":0.22,"value":1.58e5},
 {"panel":"D","group":"B/P","cohort":"N","x":0.18,"value":7.94e4},
 {"panel":"D","group":"B/P","cohort":"N","x":0.30,"value":7.94e4},
 {"panel":"D","group":"B/P","cohort":"N","x":0.26,"value":3.98e4},
 {"panel":"D","group":"B/P","cohort":"N","x":0.34,"value":4.47e4},
 {"panel":"D","group":"B/P","cohort":"PA","x":0.79,"value":3.55e5},
 {"panel":"D","group":"B/P","cohort":"PA","x":0.72,"value":2.82e5},
 {"panel":"D","group":"B/P","cohort":"PA","x":0.61,"value":1.78e5},
 {"panel":"D","group":"B/P","cohort":"PA","x":0.70,"value":1.41e5},
 {"panel":"D","group":"B/P","cohort":"PA","x":0.77,"value":1.26e5},
 {"panel":"D","group":"B/P","cohort":"PA","x":0.85,"value":2.0e5},
 {"panel":"D","group":"B/P","cohort":"PA","x":0.88,"value":1.26e5},
 {"panel":"D","group":"B/P","cohort":"PA","x":0.64,"value":1e5},
 {"panel":"D","group":"B/P","cohort":"PA","x":0.70,"value":8.91e4},
 {"panel":"D","group":"B/P","cohort":"PA","x":0.76,"value":1e5},
 {"panel":"D","group":"B/P","cohort":"PA","x":0.83,"value":1e5},
 {"panel":"D","group":"B/P","cohort":"PA","x":0.89,"value":1e5},
 {"panel":"D","group":"B/P","cohort":"PA","x":0.73,"value":5.62e4},
 {"panel":"D","group":"B/P","cohort":"PA","x":0.68,"value":2.24e4},
 {"panel":"D","group":"B/P","cohort":"PA","x":0.76,"value":2.24e4},
 {"panel":"D","group":"B/P","cohort":"PA","x":0.83,"value":2.24e4},
 {"panel":"D","group":"B/P","cohort":"PA","x":0.76,"value":8910},
 {"panel":"D","group":"B/P","cohort":"PA","x":0.76,"value":39.8},
 {"panel":"D","group":"B/P","cohort":"PA","x":0.76,"value":1},
 {"panel":"D","group":"Clocc","cohort":"N","x":1.12,"value":7.94e4},
 {"panel":"D","group":"Clocc","cohort":"N","x":1.25,"value":7.08e4},
 {"panel":"D","group":"Clocc","cohort":"N","x":1.33,"value":1e5},
 {"panel":"D","group":"Clocc","cohort":"N","x":1.17,"value":5.01e4},
 {"panel":"D","group":"Clocc","cohort":"N","x":1.31,"value":3.55e4},
 {"panel":"D","group":"Clocc","cohort":"N","x":1.25,"value":2.82e4},
 {"panel":"D","group":"Clocc","cohort":"N","x":1.21,"value":2.0e4},
 {"panel":"D","group":"Clocc","cohort":"N","x":1.29,"value":1e4},
 {"panel":"D","group":"Clocc","cohort":"N","x":1.16,"value":3980},
 {"panel":"D","group":"Clocc","cohort":"N","x":1.25,"value":2510},
 {"panel":"D","group":"Clocc","cohort":"N","x":1.33,"value":3550},
 {"panel":"D","group":"Clocc","cohort":"N","x":1.25,"value":1260},
 {"panel":"D","group":"Clocc","cohort":"N","x":1.25,"value":562},
 {"panel":"D","group":"Clocc","cohort":"PA","x":1.63,"value":3160},
 {"panel":"D","group":"Clocc","cohort":"PA","x":1.75,"value":5010},
 {"panel":"D","group":"Clocc","cohort":"PA","x":1.88,"value":3550},
 {"panel":"D","group":"Clocc","cohort":"PA","x":1.82,"value":2820},
 {"panel":"D","group":"Clocc","cohort":"PA","x":1.67,"value":1780},
 {"panel":"D","group":"Clocc","cohort":"PA","x":1.73,"value":1780},
 {"panel":"D","group":"Clocc","cohort":"PA","x":1.79,"value":2000},
 {"panel":"D","group":"Clocc","cohort":"PA","x":1.84,"value":1260},
 {"panel":"D","group":"Clocc","cohort":"PA","x":1.70,"value":891},
 {"panel":"D","group":"Clocc","cohort":"PA","x":1.78,"value":562},
 {"panel":"D","group":"Clocc","cohort":"PA","x":1.76,"value":398},
 {"panel":"D","group":"Clocc","cohort":"PA","x":1.75,"value":79.4},
 {"panel":"D","group":"Clocc","cohort":"PA","x":1.71,"value":39.8},
 {"panel":"D","group":"Clocc","cohort":"PA","x":1.79,"value":28.2},
 {"panel":"D","group":"Clocc","cohort":"PA","x":1.67,"value":2.0},
 {"panel":"D","group":"Clocc","cohort":"PA","x":1.75,"value":1},
 {"panel":"D","group":"Clocc","cohort":"PA","x":1.82,"value":1},
 {"panel":"D","group":"Clept","cohort":"N","x":2.245,"value":1.12e5},
 {"panel":"D","group":"Clept","cohort":"N","x":2.19,"value":5.01e4},
 {"panel":"D","group":"Clept","cohort":"N","x":2.28,"value":6.31e4},
 {"panel":"D","group":"Clept","cohort":"N","x":2.205,"value":2.51e4},
 {"panel":"D","group":"Clept","cohort":"N","x":2.28,"value":1.41e4},
 {"panel":"D","group":"Clept","cohort":"N","x":2.19,"value":4470},
 {"panel":"D","group":"Clept","cohort":"N","x":2.28,"value":5010},
 {"panel":"D","group":"Clept","cohort":"N","x":2.19,"value":2000},
 {"panel":"D","group":"Clept","cohort":"N","x":2.28,"value":2000},
 {"panel":"D","group":"Clept","cohort":"N","x":2.28,"value":1000},
 {"panel":"D","group":"Clept","cohort":"N","x":2.205,"value":501},
 {"panel":"D","group":"Clept","cohort":"PA","x":2.70,"value":5010},
 {"panel":"D","group":"Clept","cohort":"PA","x":2.78,"value":5010},
 {"panel":"D","group":"Clept","cohort":"PA","x":2.62,"value":3160},
 {"panel":"D","group":"Clept","cohort":"PA","x":2.86,"value":3160},
 {"panel":"D","group":"Clept","cohort":"PA","x":2.70,"value":2000},
 {"panel":"D","group":"Clept","cohort":"PA","x":2.78,"value":2000},
 {"panel":"D","group":"Clept","cohort":"PA","x":2.61,"value":1260},
 {"panel":"D","group":"Clept","cohort":"PA","x":2.66,"value":1120},
 {"panel":"D","group":"Clept","cohort":"PA","x":2.73,"value":1000},
 {"panel":"D","group":"Clept","cohort":"PA","x":2.79,"value":891},
 {"panel":"D","group":"Clept","cohort":"PA","x":2.88,"value":1260},
 {"panel":"D","group":"Clept","cohort":"PA","x":2.84,"value":1000},
 {"panel":"D","group":"Clept","cohort":"PA","x":2.66,"value":501},
 {"panel":"D","group":"Clept","cohort":"PA","x":2.74,"value":282},
 {"panel":"D","group":"Clept","cohort":"PA","x":2.82,"value":355},
 {"panel":"D","group":"Clept","cohort":"PA","x":2.74,"value":2.51},
 {"panel":"D","group":"Clept","cohort":"PA","x":2.70,"value":1},
 {"panel":"D","group":"Clept","cohort":"PA","x":2.78,"value":1},
 {"panel":"D","group":"TL","cohort":"N","x":3.19,"value":4.47e6},
 {"panel":"D","group":"TL","cohort":"N","x":3.28,"value":4.47e6},
 {"panel":"D","group":"TL","cohort":"N","x":3.20,"value":2.51e6},
 {"panel":"D","group":"TL","cohort":"N","x":3.29,"value":2.51e6},
 {"panel":"D","group":"TL","cohort":"N","x":3.11,"value":1.58e6},
 {"panel":"D","group":"TL","cohort":"N","x":3.24,"value":1.58e6},
 {"panel":"D","group":"TL","cohort":"N","x":3.36,"value":1.78e6},
 {"panel":"D","group":"TL","cohort":"N","x":3.17,"value":1e6},
 {"panel":"D","group":"TL","cohort":"N","x":3.30,"value":1e6},
 {"panel":"D","group":"TL","cohort":"N","x":3.19,"value":3.16e5},
 {"panel":"D","group":"TL","cohort":"N","x":3.27,"value":3.16e5},
 {"panel":"D","group":"TL","cohort":"N","x":3.24,"value":1.58e5},
 {"panel":"D","group":"TL","cohort":"N","x":3.24,"value":3.16e4},
 {"panel":"D","group":"TL","cohort":"PA","x":3.58,"value":2.0e6},
 {"panel":"D","group":"TL","cohort":"PA","x":3.65,"value":1.78e6},
 {"panel":"D","group":"TL","cohort":"PA","x":3.72,"value":1.58e6},
 {"panel":"D","group":"TL","cohort":"PA","x":3.79,"value":1.78e6},
 {"panel":"D","group":"TL","cohort":"PA","x":3.85,"value":2.0e6},
 {"panel":"D","group":"TL","cohort":"PA","x":3.91,"value":2.24e6},
 {"panel":"D","group":"TL","cohort":"PA","x":3.58,"value":1e6},
 {"panel":"D","group":"TL","cohort":"PA","x":3.65,"value":1.12e6},
 {"panel":"D","group":"TL","cohort":"PA","x":3.72,"value":1e6},
 {"panel":"D","group":"TL","cohort":"PA","x":3.79,"value":1.12e6},
 {"panel":"D","group":"TL","cohort":"PA","x":3.85,"value":1e6},
 {"panel":"D","group":"TL","cohort":"PA","x":3.91,"value":1.12e6},
 {"panel":"D","group":"TL","cohort":"PA","x":3.62,"value":5.62e5},
 {"panel":"D","group":"TL","cohort":"PA","x":3.70,"value":6.31e5},
 {"panel":"D","group":"TL","cohort":"PA","x":3.78,"value":5.01e5},
 {"panel":"D","group":"TL","cohort":"PA","x":3.86,"value":5.62e5},
 {"panel":"D","group":"TL","cohort":"PA","x":3.66,"value":3.55e5},
 {"panel":"D","group":"TL","cohort":"PA","x":3.82,"value":3.16e5},
 {"panel":"D","group":"TL","cohort":"PA","x":3.74,"value":1.58e5}
]
},
"spacing": 43,
"vconcat": [
{
 "title": {"text": "a", "anchor": "start", "fontSize": 22, "fontWeight": "bold", "offset": 0, "dy": 23.5, "dx": -2},
 "spacing": 14,
 "hconcat": [
 {
  "width": 326, "height": 225,
  "title": {"text": "COLON", "fontSize": 12, "offset": 12.5},
  "resolve": {"axis": {"x": "independent"}},
  "layer": [
   {"data": {"name": "dividers"}, "transform": [{"filter": "datum.panel === 'A'"}],
    "mark": {"type": "rule", "color": "black", "strokeWidth": 1.6},
    "encoding": {"x": {"field": "boundary", "type": "quantitative", "scale": {"domain": [0.186, 6], "nice": false, "zero": false},
      "axis": {"orient": "bottom", "title": null, "values": [0.27,0.75,1.25,1.74,2.24,2.74,3.24,3.74,4.24,4.74,5.26,5.74], "labelExpr": "datum.value % 1 < 0.5 ? 'N' : 'PA'", "labelFontSize": 10, "labelFontWeight": "bold", "tickSize": 3, "labelPadding": 2, "domainWidth": 1.6, "labelOverlap": false, "labelFlush": false}}}},
   {"data": {"name": "points"}, "transform": [{"filter": "datum.panel === 'A'"}],
    "mark": {"type": "point", "shape": "circle", "filled": true, "size": 24, "stroke": "black", "strokeWidth": 1.2, "opacity": 1},
    "encoding": {
     "x": {"field": "x", "type": "quantitative", "scale": {"domain": [0.186, 6], "nice": false, "zero": false},
      "axis": {"orient": "bottom", "title": null, "values": [0.27,0.75,1.25,1.74,2.24,2.74,3.24,3.74,4.24,4.74,5.26,5.74], "labelExpr": "['(12)','(20)','(13)','(20)','(6/13)','(0/20)','(13)','(20)','(13)','(20)','(13)','(20)'][round(datum.value*2-0.5)]", "domain": false, "ticks": false, "tickSize": 0, "labelPadding": 17, "labelFontSize": 7, "labelFontWeight": "bold", "labelOverlap": false, "labelFlush": false}},
     "y": {"field": "value", "type": "quantitative", "scale": {"type": "log", "domain": [1, 1e12], "nice": false},
      "axis": {"offset": 6, "title": ["CFU / g"], "values": [1, 100, 10000, 1000000, 100000000, 10000000000, 1000000000000], "labelExpr": "'10' + (datum.value < 10 ? '⁰' : datum.value < 1000 ? '²' : datum.value < 100000 ? '⁴' : datum.value < 10000000 ? '⁶' : datum.value < 1000000000 ? '⁸' : datum.value < 100000000000 ? '¹⁰' : '¹²')", "tickSize": 3, "labelFontSize": 8, "labelFontWeight": "bold", "labelPadding": 1, "domainWidth": 1.6, "titleFontSize": 11, "titleFontWeight": "normal", "titleLineHeight": 12, "titlePadding": 1}},
     "fill": {"field": "cohort", "type": "nominal", "scale": {"domain": ["N", "PA"], "range": ["transparent", "black"]}, "legend": null}
    }},
   {"data": {"name": "medians"}, "transform": [{"filter": "datum.panel === 'A'"}],
    "mark": {"type": "tick", "orient": "horizontal", "size": 18, "thickness": 1.5, "color": "black", "opacity": 1},
    "encoding": {
     "x": {"field": "x", "type": "quantitative", "scale": {"domain": [0.186, 6], "nice": false, "zero": false},
      "axis": {"orient": "top", "title": null, "values": [0.54, 1.5, 2.5, 3.5, 4.5, 5.5], "labelExpr": "['EB','EC','GPR','B/P','C/E','TL'][floor(datum.value)]", "domain": false, "ticks": false, "tickSize": 0, "labelPadding": 21, "labelFontSize": 9, "labelFontWeight": "bold", "labelOverlap": false, "labelFlush": false}},
     "y": {"field": "value", "type": "quantitative", "scale": {"type": "log", "domain": [1, 1e12], "nice": false}}
    }}
  ]
 },
 {
  "width": 338, "height": 225,
  "title": {"text": "ILEUM", "fontSize": 12, "offset": 12.5},
  "resolve": {"axis": {"x": "independent"}},
  "layer": [
   {"data": {"name": "dividers"}, "transform": [{"filter": "datum.panel === 'B'"}],
    "mark": {"type": "rule", "color": "black", "strokeWidth": 1.6},
    "encoding": {"x": {"field": "boundary", "type": "quantitative", "scale": {"domain": [0, 6], "nice": false, "zero": false},
      "axis": {"orient": "bottom", "title": null, "values": [0.25,0.76,1.28,1.76,2.25,2.76,3.24,3.75,4.25,4.74,5.24,5.70], "labelExpr": "datum.value % 1 < 0.5 ? 'N' : 'PA'", "labelFontSize": 10, "labelFontWeight": "bold", "tickSize": 3, "labelPadding": 2, "domainWidth": 1.6, "labelOverlap": false, "labelFlush": false}}}},
   {"data": {"name": "points"}, "transform": [{"filter": "datum.panel === 'B'"}],
    "mark": {"type": "point", "shape": "circle", "filled": true, "size": 24, "stroke": "black", "strokeWidth": 1.2, "opacity": 1},
    "encoding": {
     "x": {"field": "x", "type": "quantitative", "scale": {"domain": [0, 6], "nice": false, "zero": false},
      "axis": {"orient": "bottom", "title": null, "values": [0.25,0.76,1.28,1.76,2.25,2.76,3.24,3.75,4.25,4.74,5.24,5.70], "labelExpr": "['(12)','(20)','(13)','(20)','(3/13)','(0/20)','(13)','(19)','(13)','(20)','(13)','(20)'][round(datum.value*2-0.5)]", "domain": false, "ticks": false, "tickSize": 0, "labelPadding": 17, "labelFontSize": 7, "labelFontWeight": "bold", "labelOverlap": false, "labelFlush": false}},
     "y": {"field": "value", "type": "quantitative", "scale": {"type": "log", "domain": [1, 1e12], "nice": false},
      "axis": {"title": ["CFU / g"], "values": [1, 100, 10000, 1000000, 100000000, 10000000000, 1000000000000], "labelExpr": "'10' + (datum.value < 10 ? '⁰' : datum.value < 1000 ? '²' : datum.value < 100000 ? '⁴' : datum.value < 10000000 ? '⁶' : datum.value < 1000000000 ? '⁸' : datum.value < 100000000000 ? '¹⁰' : '¹²')", "tickSize": 3, "labelFontSize": 8, "labelFontWeight": "bold", "labelPadding": 1, "domainWidth": 1.6, "titleFontSize": 11, "titleFontWeight": "normal", "titleLineHeight": 12, "titlePadding": 10}},
     "fill": {"field": "cohort", "type": "nominal", "scale": {"domain": ["N", "PA"], "range": ["transparent", "black"]}, "legend": null}
    }},
   {"data": {"name": "medians"}, "transform": [{"filter": "datum.panel === 'B'"}],
    "mark": {"type": "tick", "orient": "horizontal", "size": 18, "thickness": 1.5, "color": "black", "opacity": 1},
    "encoding": {
     "x": {"field": "x", "type": "quantitative", "scale": {"domain": [0, 6], "nice": false, "zero": false},
      "axis": {"orient": "top", "title": null, "values": [0.5, 1.5, 2.5, 3.5, 4.5, 5.5], "labelExpr": "['EB','EC','GPR','B/P','C/E','TL'][floor(datum.value)]", "domain": false, "ticks": false, "tickSize": 0, "labelPadding": 21, "labelFontSize": 9, "labelFontWeight": "bold", "labelOverlap": false, "labelFlush": false}},
     "y": {"field": "value", "type": "quantitative", "scale": {"type": "log", "domain": [1, 1e12], "nice": false}}
    }}
  ]
 }
 ]
},
{
 "title": {"text": "b", "anchor": "start", "fontSize": 22, "fontWeight": "bold", "offset": 0, "dy": 20.4, "dx": -2},
 "spacing": 3.5,
 "hconcat": [
 {
  "width": 343, "height": 227,
  "title": {"text": "ILEUM", "fontSize": 12, "offset": 15},
  "resolve": {"axis": {"x": "independent"}},
  "layer": [
   {"data": {"name": "dividers"}, "transform": [{"filter": "datum.panel === 'C'"}],
    "mark": {"type": "rule", "color": "black", "strokeWidth": 1.6},
    "encoding": {"x": {"field": "boundary", "type": "quantitative", "scale": {"domain": [0, 4], "nice": false, "zero": false},
      "axis": {"orient": "bottom", "title": null, "values": [0.25,0.77,1.25,1.77,2.25,2.76,3.25,3.74], "labelExpr": "datum.value % 1 < 0.5 ? 'N' : 'PA'", "labelFontSize": 10, "labelFontWeight": "bold", "tickSize": 3, "labelPadding": 3, "domainWidth": 1.6, "labelOverlap": false, "labelFlush": false}}}},
   {"data": {"name": "points"}, "transform": [{"filter": "datum.panel === 'C'"}],
    "mark": {"type": "point", "shape": "circle", "filled": true, "size": 24, "stroke": "black", "strokeWidth": 1.2, "opacity": 1},
    "encoding": {
     "x": {"field": "x", "type": "quantitative", "scale": {"domain": [0, 4], "nice": false, "zero": false},
      "axis": {"orient": "bottom", "title": null, "values": [0.25,0.77,1.25,1.77,2.25,2.76,3.25,3.74], "labelExpr": "['(11/12)','(19)','(12)','(18)','(12)','(18)','(12)','(16)'][round(datum.value*2-0.5)]", "domain": false, "ticks": false, "tickSize": 0, "labelPadding": 17.5, "labelFontSize": 7, "labelFontWeight": "bold", "labelOverlap": false, "labelFlush": false}},
     "y": {"field": "value", "type": "quantitative", "scale": {"type": "log", "domain": [1, 1e10], "nice": false},
      "axis": {"title": ["16S rRNA", "Gene Numbers / ng DNA"], "values": [1, 100, 10000, 1000000, 100000000, 10000000000], "labelExpr": "'10' + (datum.value < 10 ? '⁰' : datum.value < 1000 ? '²' : datum.value < 100000 ? '⁴' : datum.value < 10000000 ? '⁶' : datum.value < 1000000000 ? '⁸' : '¹⁰')", "tickSize": 3, "labelFontSize": 8, "labelFontWeight": "bold", "labelPadding": 1, "domainWidth": 1.6, "titleFontSize": 10, "titleFontWeight": "normal", "titleLineHeight": 12, "titlePadding": 3.8}},
     "fill": {"field": "cohort", "type": "nominal", "scale": {"domain": ["N", "PA"], "range": ["transparent", "black"]}, "legend": null}
    }},
   {"data": {"name": "medians"}, "transform": [{"filter": "datum.panel === 'C'"}],
    "mark": {"type": "tick", "orient": "horizontal", "size": 27, "thickness": 1.5, "color": "black", "opacity": 1},
    "encoding": {
     "x": {"field": "x", "type": "quantitative", "scale": {"domain": [0, 4], "nice": false, "zero": false},
      "axis": {"orient": "top", "title": null, "values": [0.5, 1.5, 2.5, 3.5], "labelExpr": "['EB','EC','LB','Bif'][floor(datum.value)]", "domain": false, "ticks": false, "tickSize": 0, "labelPadding": 22, "labelFontSize": 9, "labelFontWeight": "bold", "labelOverlap": false, "labelFlush": false}},
     "y": {"field": "value", "type": "quantitative", "scale": {"type": "log", "domain": [1, 1e10], "nice": false}}
    }},
   {"data": {"name": "annotations"}, "transform": [{"filter": "datum.panel === 'C'"}],
    "mark": {"type": "rule", "color": "black", "strokeWidth": 1.5},
    "encoding": {
     "x": {"field": "from", "type": "quantitative", "scale": {"domain": [0, 4], "nice": false, "zero": false}, "axis": null},
     "x2": {"field": "to"},
     "y": {"field": "level", "type": "quantitative", "scale": {"type": "log", "domain": [1, 1e10], "nice": false}}
    }},
   {"data": {"name": "annotations"}, "transform": [{"filter": "datum.panel === 'C'"}],
    "mark": {"type": "text", "fontSize": 9, "fontWeight": "bold", "fontStyle": "italic", "align": "left", "baseline": "alphabetic", "dy": -3, "color": "black"},
    "encoding": {
     "x": {"field": "from", "type": "quantitative", "scale": {"domain": [0, 4], "nice": false, "zero": false}, "axis": null},
     "y": {"field": "level", "type": "quantitative", "scale": {"type": "log", "domain": [1, 1e10], "nice": false}},
     "text": {"field": "symbol"}
    }},
   {"data": {"name": "annotations"}, "transform": [{"filter": "datum.panel === 'C'"}],
    "mark": {"type": "text", "fontSize": 9, "fontWeight": "bold", "align": "left", "baseline": "alphabetic", "dx": 5, "dy": -3, "color": "black"},
    "encoding": {
     "x": {"field": "from", "type": "quantitative", "scale": {"domain": [0, 4], "nice": false, "zero": false}, "axis": null},
     "y": {"field": "level", "type": "quantitative", "scale": {"type": "log", "domain": [1, 1e10], "nice": false}},
     "text": {"field": "threshold"}
    }}
  ]
 },
 {
  "width": 342, "height": 227,
  "title": {"text": "ILEUM", "fontSize": 12, "offset": 15},
  "resolve": {"axis": {"x": "independent"}},
  "layer": [
   {"data": {"name": "dividers"}, "transform": [{"filter": "datum.panel === 'D'"}],
    "mark": {"type": "rule", "color": "black", "strokeWidth": 1.6},
    "encoding": {"x": {"field": "boundary", "type": "quantitative", "scale": {"domain": [0, 4], "nice": false, "zero": false},
      "axis": {"orient": "bottom", "title": null, "values": [0.25,0.75,1.245,1.73,2.245,2.74,3.245,3.735], "labelExpr": "datum.value % 1 < 0.5 ? 'N' : 'PA'", "labelFontSize": 10, "labelFontWeight": "bold", "tickSize": 3, "labelPadding": 3, "domainWidth": 1.6, "labelOverlap": false, "labelFlush": false}}}},
   {"data": {"name": "points"}, "transform": [{"filter": "datum.panel === 'D'"}],
    "mark": {"type": "point", "shape": "circle", "filled": true, "size": 24, "stroke": "black", "strokeWidth": 1.2, "opacity": 1},
    "encoding": {
     "x": {"field": "x", "type": "quantitative", "scale": {"domain": [0, 4], "nice": false, "zero": false},
      "axis": {"orient": "bottom", "title": null, "values": [0.25,0.75,1.245,1.73,2.245,2.74,3.245,3.735], "labelExpr": "['(13)','(18/19)','(13)','(15/17)','(11)','(16/18)','(13)','(19)'][round(datum.value*2-0.5)]", "domain": false, "ticks": false, "tickSize": 0, "labelPadding": 17.5, "labelFontSize": 7, "labelFontWeight": "bold", "labelOverlap": false, "labelFlush": false}},
     "y": {"field": "value", "type": "quantitative", "scale": {"type": "log", "domain": [1, 1e10], "nice": false},
      "axis": {"title": ["16S rRNA", "Gene Numbers / ng DNA"], "values": [1, 100, 10000, 1000000, 100000000, 10000000000], "labelExpr": "'10' + (datum.value < 10 ? '⁰' : datum.value < 1000 ? '²' : datum.value < 100000 ? '⁴' : datum.value < 10000000 ? '⁶' : datum.value < 1000000000 ? '⁸' : '¹⁰')", "tickSize": 3, "labelFontSize": 8, "labelFontWeight": "bold", "labelPadding": 1, "domainWidth": 1.6, "titleFontSize": 10, "titleFontWeight": "normal", "titleLineHeight": 12, "titlePadding": 9.8}},
     "fill": {"field": "cohort", "type": "nominal", "scale": {"domain": ["N", "PA"], "range": ["transparent", "black"]}, "legend": null}
    }},
   {"data": {"name": "medians"}, "transform": [{"filter": "datum.panel === 'D'"}],
    "mark": {"type": "tick", "orient": "horizontal", "size": 27, "thickness": 1.5, "color": "black", "opacity": 1},
    "encoding": {
     "x": {"field": "x", "type": "quantitative", "scale": {"domain": [0, 4], "nice": false, "zero": false},
      "axis": {"orient": "top", "title": null, "values": [0.5, 1.5, 2.5, 3.5], "labelExpr": "['B/P','Clocc','Clept','TL'][floor(datum.value)]", "domain": false, "ticks": false, "tickSize": 0, "labelPadding": 22, "labelFontSize": 9, "labelFontWeight": "bold", "labelOverlap": false, "labelFlush": false}},
     "y": {"field": "value", "type": "quantitative", "scale": {"type": "log", "domain": [1, 1e10], "nice": false}}
    }}
  ]
 }
 ]
}
]
}
